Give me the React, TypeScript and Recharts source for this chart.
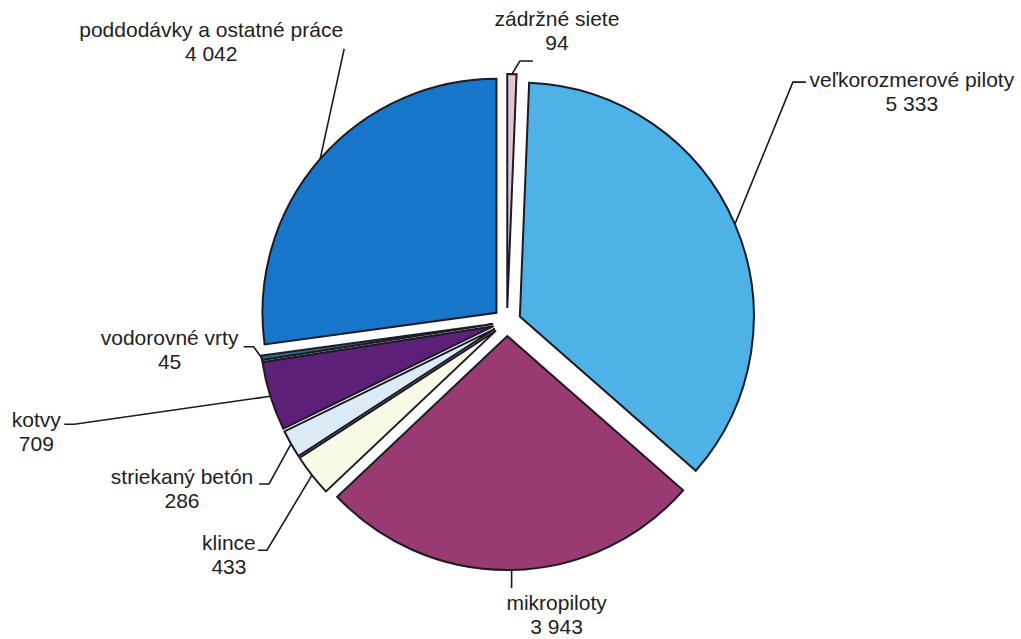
import { PieChart, Pie, Cell, Sector } from 'recharts';

const names = [
  'zádržné siete',
  'veľkorozmerové piloty',
  'mikropiloty',
  'klince',
  'striekaný betón',
  'kotvy',
  'vodorovné vrty',
  'poddodávky a ostatné práce',
];
const values = [94, 5333, 3943, 433, 286, 709, 45, 4042];
const colors = ['#e7c4d4', '#4fb2e6', '#9a3a72', '#fafbe6', '#dbebf6', '#5d2079', '#2d6a7c', '#1776c9'];

// leader line: elbow offset from the arc point, horizontal tail, text offset (centre x, first baseline)
const leaders = [
  { ex: 8, ey: -13, hx: 13, tx: 45, ty: -48 },
  { ex: 58, ey: -142, hx: 13, tx: 177, ty: -137 },
  { ex: 0, ey: 18, hx: 0, tx: 45, ty: 40 },
  { ex: -45, ey: 75, hx: -9, tx: -83, ty: 75 },
  { ex: -22, ey: 40, hx: -10, tx: -109, ty: 40 },
  { ex: -196, ey: 28, hx: -10, tx: -234, ty: 31 },
  { ex: -8, ey: -11, hx: -10, tx: -92, ty: -13 },
  { ex: 24, ey: -110, hx: 0, tx: -109, ty: -122 },
];

const data = names.map((name, i) => ({ name, value: values[i] }));

const EXPLODE = 14;
const RADIAN = Math.PI / 180;
const FONT = '"Liberation Sans", Arial, sans-serif';

const fmt = (v: number) => String(v).replace(/\B(?=(\d{3})+(?!\d))/g, ' ');

const polar = (cx: number, cy: number, angle: number, r: number) => ({
  x: cx + Math.cos(-angle * RADIAN) * r,
  y: cy + Math.sin(-angle * RADIAN) * r,
});

// every slice pulled out from the centre along its middle angle
const ExplodedSector = (props: any) => {
  const { cx, cy, midAngle, innerRadius, outerRadius, startAngle, endAngle, fill } = props;
  const c = polar(cx, cy, midAngle, EXPLODE);
  return (
    <Sector
      cx={c.x}
      cy={c.y}
      innerRadius={innerRadius}
      outerRadius={outerRadius}
      startAngle={startAngle}
      endAngle={endAngle}
      fill={fill}
      stroke="#1c1a24"
      strokeWidth={2}
      strokeLinejoin="miter"
    />
  );
};

const renderLabel = (props: any) => {
  const { cx, cy, midAngle, outerRadius } = props;
  const i = typeof props.index === 'number' ? props.index : names.indexOf(props.name);
  const l = leaders[i];
  const a = polar(cx, cy, midAngle, outerRadius + EXPLODE);
  const e = { x: a.x + l.ex, y: a.y + l.ey };
  const tx = a.x + l.tx;
  const ty = a.y + l.ty;
  return (
    <g>
      <polyline
        points={`${a.x},${a.y} ${e.x},${e.y} ${e.x + l.hx},${e.y}`}
        fill="none"
        stroke="#1a1a1a"
        strokeWidth={1.6}
      />
      <text x={tx} y={ty} textAnchor="middle" fill="#222" fontSize={21} fontFamily={FONT}>
        <tspan x={tx}>{names[i]}</tspan>
        <tspan x={tx} dy={24}>{fmt(values[i])}</tspan>
      </text>
    </g>
  );
};

export default function App() {
  return (
    <div style={{ position: 'absolute', left: 0, top: 0, background: '#fff' }}>
      <PieChart width={1021} height={639} margin={{ top: 0, right: 0, bottom: 0, left: 0 }}>
        <Pie
          data={data}
          dataKey="value"
          nameKey="name"
          cx={507}
          cy={322}
          outerRadius={234}
          startAngle={90}
          endAngle={-270}
          isAnimationActive={false}
          shape={ExplodedSector}
          activeShape={ExplodedSector}
          inactiveShape={ExplodedSector}
          label={renderLabel}
          labelLine={false}
        >
          {data.map((d, i) => (
            <Cell key={d.name} fill={colors[i]} />
          ))}
        </Pie>
      </PieChart>
    </div>
  );
}
